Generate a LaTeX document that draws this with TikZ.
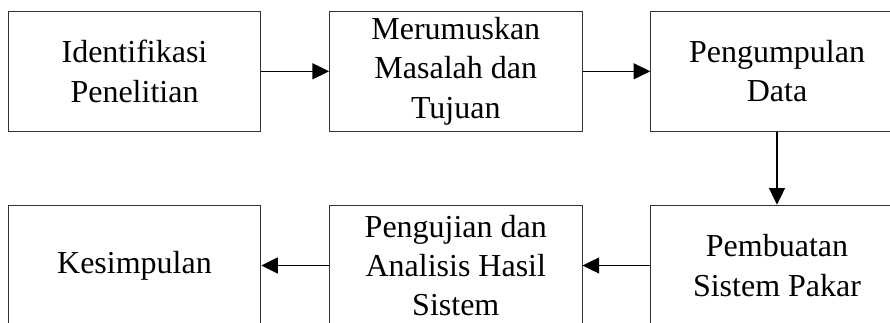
\documentclass[tikz,border=0pt]{standalone}
\usepackage{fontspec}
\setmainfont{Liberation Serif}
\usetikzlibrary{arrows.meta}
\tikzstyle{tahap}	= [rectangle, draw=black!80, line width=0.7pt, minimum width=189.4pt, minimum height=90.5pt, inner sep=0pt, align=center, font=\fontsize{24}{29.5}\selectfont]
\tikzstyle{alur}	= [draw, line width=1.1pt, black, -{Triangle[length=12.5pt,width=12pt]}]
\begin{document}
\begin{tikzpicture}[x=0.75pt, y=-0.75pt]
		\useasboundingbox (0,0) rectangle (890,322);
		
		%%%% Baris atas
		\node[tahap] (t1) at (134.5,71.3) {Identifikasi\\Penelitian};
		\node[tahap] (t2) at (455.8,71.3) {Merumuskan\\Masalah dan\\Tujuan};
		\node[tahap] (t3) at (777,71.3) {Pengumpulan\\Data};
		
		%%%% Baris bawah
		\node[tahap] (t4) at (777,265.5) {Pembuatan\\Sistem Pakar};
		\node[tahap] (t5) at (455.8,265.5) {Pengujian dan\\Analisis Hasil\\Sistem};
		\node[tahap] (t6) at (134.5,265.5) {Kesimpulan};
		
		%%%% Alur
		\foreach \source/ \dest in {t1/t2,t2/t3,t3/t4,t4/t5,t5/t6}	\path[alur] (\source) -- (\dest) ;
\end{tikzpicture}
\end{document}
